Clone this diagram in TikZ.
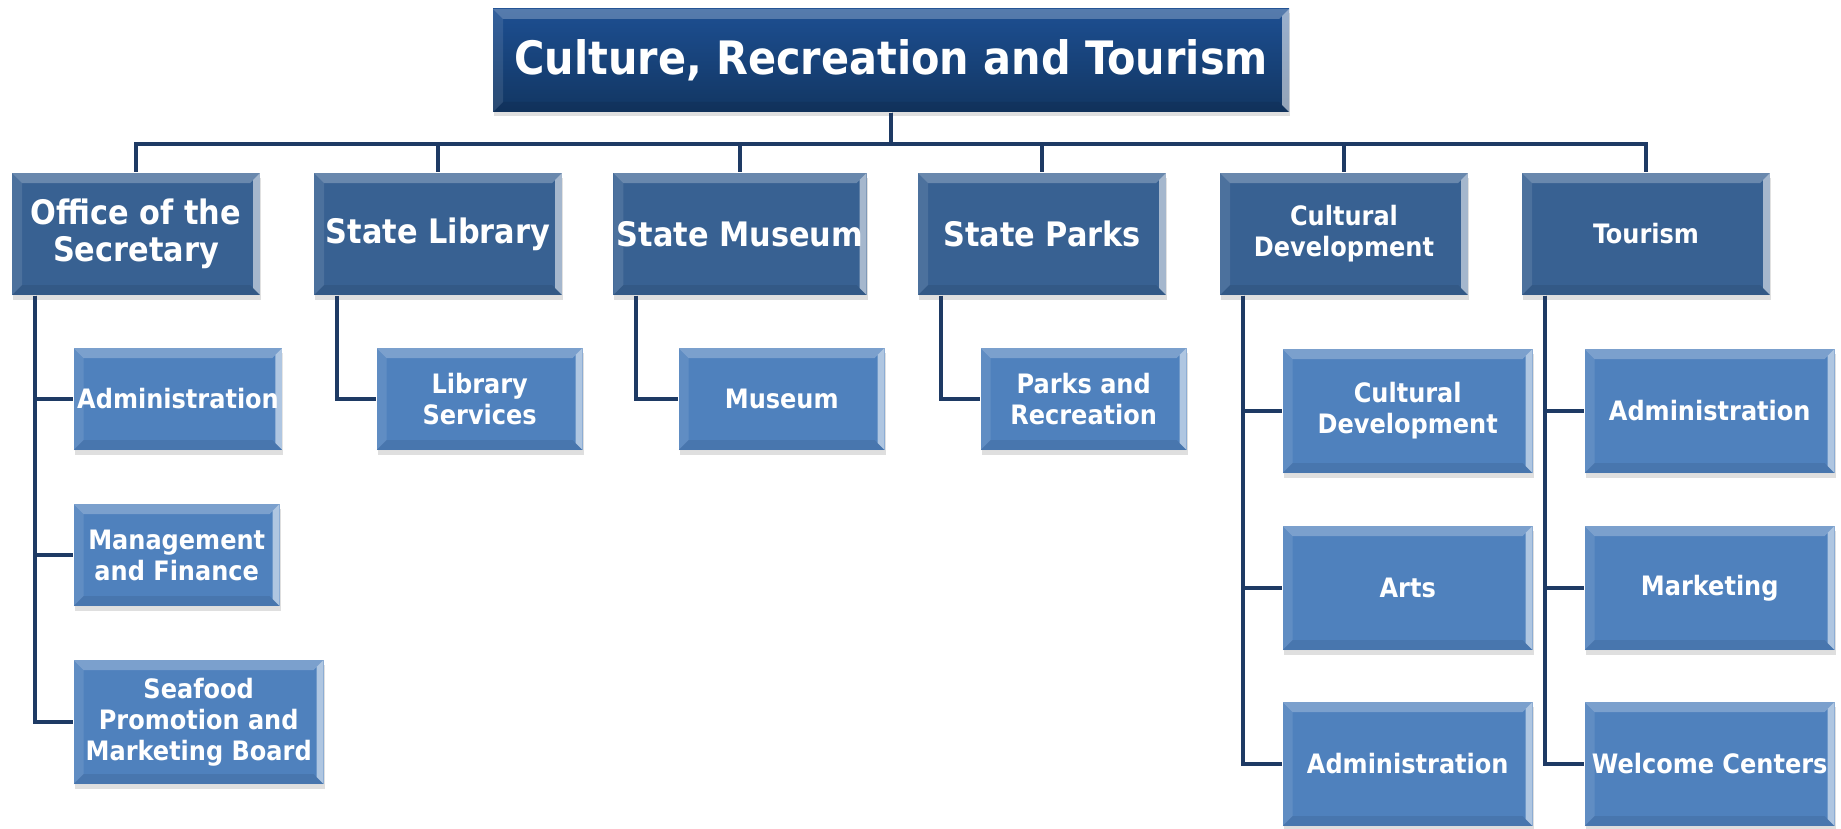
\documentclass[tikz,border=0pt]{standalone}
\usepackage{fontspec}
\setmainfont{DejaVu Sans Condensed}
\usetikzlibrary{positioning,shadows}
\definecolor{TopHigh}{HTML}{1D4F92}
\definecolor{TopLow}{HTML}{123662}
\definecolor{DeptBlue}{HTML}{386192}
\definecolor{UnitBlue}{HTML}{4F81BD}
\definecolor{LinkNavy}{HTML}{1E3A64}

\begin{document}
\begin{tikzpicture}[
  x=0.1mm,y=-0.1mm,
  every node/.style={text=white,font=\bfseries,align=center,inner sep=1pt},
  bevel/.style={path picture={
    \path (path picture bounding box.north west) coordinate (bvnw)
          (path picture bounding box.north east) coordinate (bvne)
          (path picture bounding box.south west) coordinate (bvsw)
          (path picture bounding box.south east) coordinate (bvse);
    \fill[white,opacity=.25] (bvnw) -- (bvne) -- ([shift={(-1mm,-1mm)}]bvne) -- ([shift={(1mm,-1mm)}]bvnw) -- cycle;
    \fill[white,opacity=.10] (bvnw) -- ([shift={(1mm,-1mm)}]bvnw) -- ([shift={(1mm,1mm)}]bvsw) -- (bvsw) -- cycle;
    \fill[black,opacity=.08] (bvsw) -- ([shift={(1mm,1mm)}]bvsw) -- ([shift={(-1mm,1mm)}]bvse) -- (bvse) -- cycle;
    \fill[white,opacity=.55] (bvne) -- (bvse) -- ([shift={(-0.7mm,0.7mm)}]bvse) -- ([shift={(-0.7mm,-0.7mm)}]bvne) -- cycle;
  }},
  boxbase/.style={rectangle,bevel,drop shadow={shadow xshift=0.1mm,shadow yshift=-0.45mm,opacity=.25}},
  topbox/.style={boxbase,top color=TopHigh,bottom color=TopLow,minimum width=79.6mm,minimum height=10.3mm,
    font=\bfseries\fontsize{13.1}{16}\selectfont},
  dept/.style={boxbase,fill=DeptBlue,minimum width=24.8mm,minimum height=12.2mm,
    font=\bfseries\fontsize{9.6}{10.5}\selectfont},
  deptsmall/.style={dept,font=\bfseries\fontsize{7.6}{8.8}\selectfont},
  unit/.style={boxbase,fill=UnitBlue,anchor=west,minimum width=20.6mm,minimum height=10.2mm,
    font=\bfseries\fontsize{7.6}{8.8}\selectfont},
  unitwide/.style={unit,minimum width=25mm,minimum height=12.4mm},
  link/.style={draw=LinkNavy,line width=0.45mm}
]
  \useasboundingbox (0,0) rectangle (1841,828);

  % head of the department
  \node[topbox] (top) at (891,60.5) {Culture, Recreation and Tourism};
  \coordinate (bar) at (891,144);

  % offices
  \foreach \nm/\x/\lab in {off/136/{Office of the\\Secretary},lib/438/{State Library},
                           mus/740/{State Museum},park/1042/{State Parks}}{
    \node[dept] (\nm) at (\x,234) {\lab};
  }
  \foreach \nm/\x/\lab in {cult/1344/{Cultural\\Development},tour/1646/{Tourism}}{
    \node[deptsmall] (\nm) at (\x,234) {\lab};
  }
  \foreach \nm in {off,lib,mus,park,cult,tour}{
    \draw[link] (top.south) -- (top.south |- bar) -| (\nm.north);
  }

  % units
  \node[unit] (offadm) at (73,399) {Administration};
  \node[unit] (offfin) at (73,555) {Management\\and Finance};
  \node[unitwide] (offsea) at (73,722) {Seafood\\Promotion and\\Marketing Board};
  \node[unit] (libsvc) at (376,399) {Library\\Services};
  \node[unit] (musm) at (678,399) {Museum};
  \node[unit] (parkrec) at (980,399) {Parks and\\Recreation};
  \node[unitwide] (cultdev) at (1282,411) {Cultural\\Development};
  \node[unitwide] (cultart) at (1282,588) {Arts};
  \node[unitwide] (cultadm) at (1282,764) {Administration};
  \node[unitwide] (touradm) at (1584,411) {Administration};
  \node[unitwide] (tourmkt) at (1584,588) {Marketing};
  \node[unitwide] (tourwel) at (1584,764) {Welcome Centers};

  \foreach \p/\c in {off/offadm,off/offfin,off/offsea,lib/libsvc,mus/musm,park/parkrec,
                     cult/cultdev,cult/cultart,cult/cultadm,tour/touradm,tour/tourmkt,tour/tourwel}{
    \draw[link] ([xshift=2.35mm]\p.south west) |- (\c.west);
  }
\end{tikzpicture}
\end{document}
